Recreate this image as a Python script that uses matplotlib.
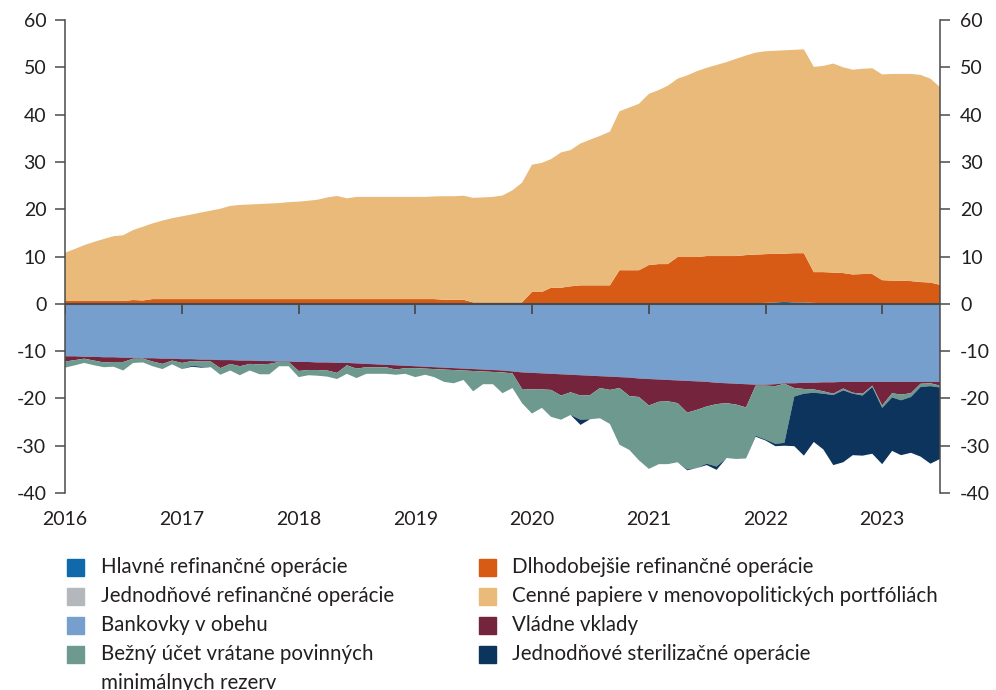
import numpy as np
import pandas as pd
import matplotlib
matplotlib.use("Agg")
import matplotlib.pyplot as plt
from matplotlib.patches import Rectangle

plt.rcParams['font.family'] = ['Lato', 'DejaVu Sans']
plt.rcParams['axes.unicode_minus'] = False

# monthly data, Jan 2016 - Jul 2023 (EUR bn)
months = pd.date_range("2016-01-01", "2023-07-01", freq="MS")

# assets (positive side)
hlavne = [0.0] * 71 + [0.1, 0.2, 0.3, 0.4, 0.3, 0.3, 0.2, 0.1, 0.1] + [0.0] * 11
jednodnove_ref = [0.0] * 91
dlhodobejsie = [
    0.6, 0.6, 0.6, 0.6, 0.6, 0.6, 0.6, 0.8, 0.7, 1.0, 1.0, 1.0,
    1.0, 1.0, 1.0, 1.0, 1.0, 1.0, 1.0, 1.0, 1.0, 1.0, 1.0, 1.0,
    1.0, 1.0, 1.0, 1.0, 1.0, 1.0, 1.0, 1.0, 1.0, 1.0, 1.0, 1.0,
    1.0, 1.0, 1.0, 0.85, 0.85, 0.85, 0.3, 0.3, 0.3, 0.3, 0.3, 0.3,
    2.5, 2.5, 3.4, 3.4, 3.7, 3.9, 3.9, 3.9, 3.9, 7.1, 7.1, 7.1,
    8.2, 8.4, 8.4, 9.9, 9.9, 9.9, 10.1, 10.1, 10.1, 10.1, 10.3, 10.3,
    10.3, 10.3, 10.2, 10.4, 10.4, 6.5, 6.6, 6.5, 6.5, 6.2, 6.3, 6.3,
    5.0, 4.9, 4.9, 4.8, 4.6, 4.5, 4.0]
cenne = [
    10.2, 11.0, 11.8, 12.5, 13.1, 13.7, 13.9, 14.8, 15.6, 16.0, 16.6, 17.1,
    17.5, 17.9, 18.3, 18.7, 19.1, 19.7, 19.9, 20.0, 20.1, 20.2, 20.3, 20.5,
    20.6, 20.8, 21.0, 21.5, 21.8, 21.3, 21.6, 21.6, 21.6, 21.6, 21.6, 21.6,
    21.6, 21.6, 21.7, 21.9, 21.9, 22.0, 22.1, 22.2, 22.3, 22.6, 23.7, 25.3,
    26.9, 27.3, 27.2, 28.6, 28.8, 30.0, 30.8, 31.6, 32.5, 33.6, 34.4, 35.2,
    36.2, 36.8, 37.7, 37.7, 38.4, 39.3, 39.8, 40.4, 41.0, 41.7, 42.2, 42.7,
    42.9, 42.9, 43.0, 43.0, 43.1, 43.4, 43.6, 44.2, 43.5, 43.3, 43.4, 43.5,
    43.5, 43.7, 43.7, 43.8, 43.8, 43.1, 41.8]

# liabilities (negative side, given as magnitudes)
bankovky = [
    11.1, 11.1, 11.2, 11.2, 11.3, 11.3, 11.4, 11.4, 11.5, 11.5, 11.6, 11.6,
    11.7, 11.7, 11.8, 11.8, 11.9, 11.9, 12.0, 12.0, 12.1, 12.1, 12.2, 12.2,
    12.3, 12.3, 12.4, 12.4, 12.5, 12.5, 12.6, 12.7, 12.8, 12.9, 13.0, 13.1,
    13.2, 13.3, 13.4, 13.5, 13.6, 13.7, 13.8, 13.9, 14.0, 14.1, 14.3, 14.5,
    14.6, 14.7, 14.8, 14.9, 15.0, 15.1, 15.2, 15.3, 15.4, 15.5, 15.6, 15.8,
    15.9, 16.0, 16.1, 16.2, 16.3, 16.4, 16.5, 16.7, 16.8, 16.9, 17.0, 17.1,
    17.1, 17.0, 16.8, 16.8, 16.7, 16.7, 16.6, 16.6, 16.5, 16.5, 16.5, 16.5,
    16.5, 16.5, 16.5, 16.5, 16.5, 16.5, 16.5]
vladne = [
    1.1, 0.8, 0.4, 0.8, 1.1, 1.0, 0.9, 0.2, 0.1, 0.7, 1.1, 0.4,
    0.8, 0.4, 0.4, 0.4, 1.7, 0.8, 1.2, 0.7, 0.7, 0.6, 0.1, 0.1,
    1.9, 1.7, 1.6, 1.7, 2.1, 0.5, 1.1, 0.7, 0.6, 0.5, 0.9, 0.5,
    0.4, 0.4, 0.4, 0.4, 0.4, 0.4, 0.4, 0.4, 0.4, 0.4, 0.4, 3.5,
    3.5, 3.4, 3.4, 4.5, 3.7, 4.3, 4.1, 2.5, 2.8, 2.3, 3.9, 3.9,
    5.6, 4.7, 4.5, 4.8, 6.7, 6.0, 5.2, 4.5, 4.2, 4.4, 4.9, 0.2,
    0.2, 0.4, 0.1, 1.0, 1.3, 1.4, 1.9, 2.4, 1.4, 2.3, 2.5, 0.8,
    5.0, 2.4, 2.7, 2.4, 0.4, 0.3, 0.8]
bezny = [
    1.3, 1.1, 0.9, 1.0, 1.0, 1.0, 1.8, 0.9, 0.8, 1.0, 1.1, 0.8,
    1.3, 1.0, 1.1, 1.2, 1.4, 1.4, 1.9, 1.4, 2.1, 2.2, 0.9, 0.9,
    1.3, 1.1, 1.2, 1.3, 1.3, 1.8, 2.0, 1.4, 1.4, 1.4, 1.1, 1.2,
    1.9, 1.3, 1.7, 2.6, 2.8, 2.0, 4.3, 2.7, 2.6, 4.4, 3.1, 3.0,
    5.1, 3.9, 5.7, 5.1, 4.8, 5.1, 5.1, 6.4, 7.2, 12.0, 11.4, 13.4,
    13.4, 13.2, 13.3, 12.5, 12.0, 12.3, 12.1, 13.2, 11.6, 11.5, 10.8, 10.6,
    11.4, 12.2, 12.5, 1.8, 1.0, 0.7, 0.5, 0.3, 0.4, 0.2, 0.4, 0.3,
    0.5, 0.9, 1.2, 0.8, 0.7, 0.6, 0.4]
sterilizacne = [
    0, 0, 0, 0, 0, 0, 0, 0, 0, 0, 0, 0,
    0, 0.2, 0.2, 0, 0, 0, 0, 0, 0, 0, 0, 0,
    0, 0, 0, 0, 0, 0, 0, 0, 0, 0, 0, 0,
    0, 0, 0, 0, 0, 0, 0, 0, 0, 0, 0, 0,
    0, 0, 0, 0, 0, 1.1, 0, 0, 0, 0, 0, 0,
    0, 0, 0, 0, 0.2, 0, 0.3, 0.7, 0, 0, 0, 0.2,
    0.2, 0.5, 0.6, 10.5, 13.1, 10.4, 11.8, 14.8, 15.2, 13.0, 12.7, 14.1,
    11.9, 11.3, 11.6, 11.8, 14.7, 16.4, 15.1]

labels = ["Hlavné refinančné operácie", "Jednodňové refinančné operácie",
          "Bankovky v obehu", "Bežný účet vrátane povinných",
          "Dlhodobejšie refinančné operácie",
          "Cenné papiere v menovopolitických portfóliách",
          "Vládne vklady", "Jednodňové sterilizačné operácie"]
colors = ["#0f69aa", "#b4b8bc", "#769fcd", "#6e998f",
          "#d75b15", "#eaba7a", "#74243c", "#0c345c"]
years = list(range(2016, 2024))

txt = "#231f20"
axc = "#4a4a4a"

fig = plt.figure(figsize=(9.96, 6.9), dpi=100)
ax = fig.add_axes([0.0653, 0.2855, 0.8785, 0.6855])

ax.stackplot(months, hlavne, jednodnove_ref, dlhodobejsie, cenne,
             colors=[colors[0], colors[1], colors[4], colors[5]], lw=0)
ax.stackplot(months, -np.array(bankovky), -np.array(vladne),
             -np.array(bezny), -np.array(sterilizacne),
             colors=[colors[2], colors[6], colors[3], colors[7]], lw=0)

year_dates = pd.to_datetime([f"{y}-01-01" for y in years])
ax.axhline(0, color=axc, lw=1.5, zorder=5)
ax.vlines(year_dates, -2.1, 0, color=axc, lw=1.3, zorder=5)

ax.set_xlim(months[0], months[-1])
ax.set_ylim(-40, 60)
ax.set_yticks(range(-40, 61, 10))
ax.set_xticks(year_dates)
ax.set_xticklabels([str(y) for y in years])

for s in ["top", "bottom", "right"]:
    ax.spines[s].set_visible(False)
ax.spines["left"].set_color(axc)
ax.spines["left"].set_linewidth(1.1)
ax.tick_params(axis="y", length=7.5, width=1.1, color=axc, pad=6,
               labelsize=14, labelcolor=txt)
ax.tick_params(axis="x", length=0, pad=13, labelsize=14, labelcolor=txt)

ax2 = ax.twinx()
ax2.set_ylim(-40, 60)
ax2.set_yticks(range(-40, 61, 10))
for s in ["top", "bottom", "left"]:
    ax2.spines[s].set_visible(False)
ax2.spines["right"].set_color(axc)
ax2.spines["right"].set_linewidth(1.1)
ax2.tick_params(axis="y", length=7.5, width=1.1, color=axc, pad=7,
                labelsize=14, labelcolor=txt)

# legend, two columns
W, H = 996, 690
rows_y = [567, 596, 625, 654]
cols = [(67, 101), (479, 512)]
for i, (lab, col) in enumerate(zip(labels, colors)):
    sx, tx = cols[i // 4]
    cy = rows_y[i % 4]
    fig.patches.append(Rectangle((sx / W, 1 - (cy + 8.5) / H), 17 / W, 17 / H,
                                 transform=fig.transFigure, color=col))
    fig.text(tx / W, 1 - cy / H, lab, ha="left", va="center",
             fontsize=14.8, color=txt)
# second line of the wrapped label, partly cut by the figure edge as in the source
fig.text(101 / W, 1 - 683 / H, "minimálnych rezerv", ha="left", va="center",
         fontsize=14.8, color=txt)

fig.savefig("out.png", dpi=100)
